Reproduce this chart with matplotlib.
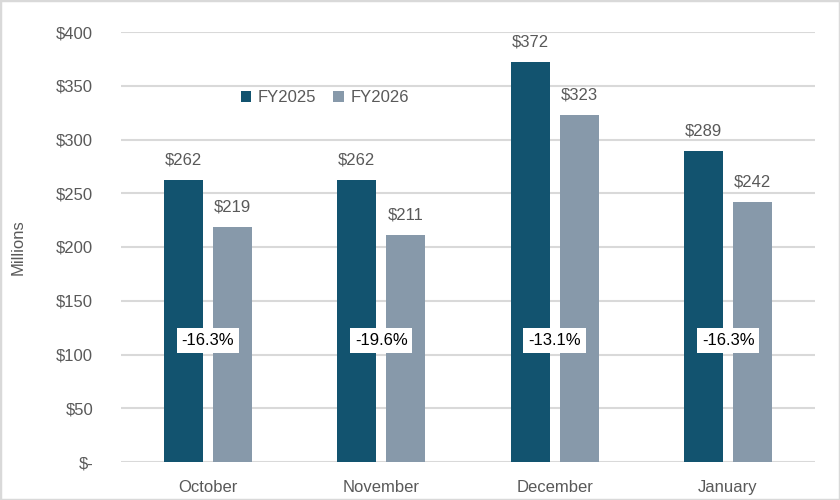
import numpy as np
import matplotlib.pyplot as plt
from matplotlib.patches import Rectangle

# Data
months = ['October', 'November', 'December', 'January']
fy2025 = [262, 262, 372, 289]
fy2026 = [219, 211, 323, 242]
pct_change = ['-16.3%', '-19.6%', '-13.1%', '-16.3%']
y_ticks = [0, 50, 100, 150, 200, 250, 300, 350, 400]
y_tick_labels = ['$-', '$50', '$100', '$150', '$200', '$250', '$300', '$350', '$400']

dark = '#12536F'
light = '#8799AA'
grid_c = '#D9D9D9'
text_c = '#595959'

plt.rcParams['font.family'] = ['Liberation Sans', 'DejaVu Sans']

fig = plt.figure(figsize=(8.4, 5), dpi=100)
ax = fig.add_axes([0.144, 0.076, 0.826, 0.86])

x = np.arange(len(months))
w = 0.225
off = 0.141
b1 = ax.bar(x - off, fy2025, w, color=dark, label='FY2025', zorder=3)
b2 = ax.bar(x + off, fy2026, w, color=light, label='FY2026', zorder=3)

for bars, vals in [(b1, fy2025), (b2, fy2026)]:
    for bar, v in zip(bars, vals):
        ax.annotate(f'${v}', (bar.get_x() + bar.get_width() / 2, v),
                    xytext=(0, 9), textcoords='offset points',
                    ha='center', va='bottom', fontsize=12, color=text_c)

# percent change labels between bars
for xi, p in zip(x, pct_change):
    ax.text(xi, 113, p, ha='center', va='center', fontsize=12, color='black',
            bbox=dict(facecolor='white', edgecolor='none', pad=3.5), zorder=4)

ax.set_xlim(-0.5, 3.5)
ax.set_ylim(0, 400)
ax.set_yticks(y_ticks)
ax.set_yticklabels(y_tick_labels)
ax.set_xticks(x)
ax.set_xticklabels(months)
ax.tick_params(axis='both', length=0, labelsize=12, labelcolor=text_c)
ax.tick_params(axis='y', pad=20)
ax.tick_params(axis='x', pad=13)
ax.grid(axis='y', color=grid_c, linewidth=1.5, zorder=0)
for s in ax.spines.values():
    s.set_visible(False)

ax.set_ylabel('Millions', fontsize=12, color=text_c)
ax.yaxis.set_label_coords(-0.137, 0.5)

leg = ax.legend(loc='center', bbox_to_anchor=(0.294, 0.847), ncol=2, frameon=False,
                fontsize=12, handlelength=0.65, handleheight=0.65, handletextpad=0.4,
                columnspacing=1.0, labelcolor=text_c)

fig.patches.append(Rectangle((0, 0), 1, 1, transform=fig.transFigure, fill=False,
                             edgecolor=grid_c, linewidth=2.5))

fig.savefig('out.png', dpi=100)
